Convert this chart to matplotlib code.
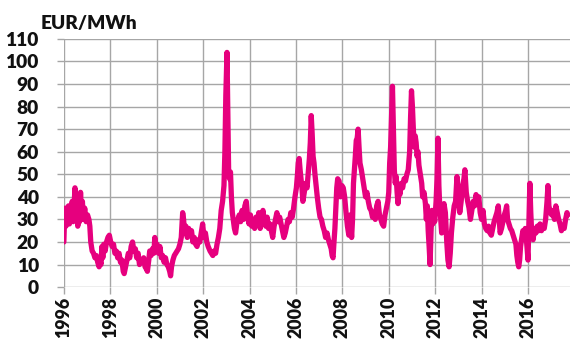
import matplotlib
matplotlib.use("Agg")
import matplotlib.pyplot as plt
import numpy as np

years = [
1996.00,1996.03,1996.06,1996.09,1996.12,1996.16,1996.20,1996.24,1996.28,1996.32,1996.36,1996.40,1996.44,1996.48,1996.52,1996.56,1996.60,1996.64,1996.68,1996.72,1996.76,1996.80,1996.84,1996.90,1996.96,
1997.02,1997.08,1997.12,1997.16,1997.22,1997.28,1997.34,1997.40,1997.46,1997.52,1997.56,1997.60,1997.64,1997.68,1997.72,1997.78,1997.84,1997.90,1997.96,
1998.02,1998.08,1998.14,1998.20,1998.26,1998.32,1998.38,1998.44,1998.50,1998.56,1998.60,1998.66,1998.72,1998.78,1998.84,1998.90,1998.96,
1999.02,1999.08,1999.14,1999.20,1999.26,1999.32,1999.38,1999.44,1999.50,1999.56,1999.60,1999.66,1999.70,1999.76,1999.82,1999.88,1999.92,1999.96,
2000.02,2000.08,2000.14,2000.20,2000.26,2000.32,2000.38,2000.44,2000.50,2000.56,2000.60,2000.64,2000.70,2000.76,2000.82,2000.88,2000.94,
2001.00,2001.06,2001.12,2001.16,2001.20,2001.26,2001.32,2001.38,2001.44,2001.50,2001.56,2001.62,2001.68,2001.74,2001.80,2001.86,2001.92,2001.98,
2002.04,2002.10,2002.16,2002.22,2002.30,2002.36,2002.42,2002.48,2002.54,2002.60,2002.66,2002.72,2002.78,2002.84,2002.90,2002.94,2002.98,
2003.03,2003.07,2003.10,2003.14,2003.18,2003.22,2003.26,2003.30,2003.35,2003.40,2003.45,2003.50,2003.56,2003.62,2003.68,2003.74,2003.80,2003.86,2003.92,2003.98,
2004.04,2004.10,2004.16,2004.22,2004.28,2004.34,2004.40,2004.46,2004.52,2004.58,2004.64,2004.70,2004.76,2004.82,2004.88,2004.94,
2005.00,2005.06,2005.12,2005.18,2005.24,2005.30,2005.36,2005.42,2005.48,2005.54,2005.60,2005.66,2005.72,2005.78,2005.84,2005.90,2005.96,
2006.02,2006.06,2006.10,2006.14,2006.18,2006.22,2006.26,2006.30,2006.36,2006.42,2006.48,2006.54,2006.58,2006.62,2006.66,2006.70,2006.74,2006.78,2006.82,2006.86,2006.92,2006.98,
2007.04,2007.10,2007.16,2007.22,2007.28,2007.34,2007.40,2007.46,2007.52,2007.56,2007.60,2007.64,2007.68,2007.72,2007.76,2007.80,2007.86,2007.92,2007.98,
2008.04,2008.10,2008.16,2008.22,2008.28,2008.34,2008.40,2008.44,2008.48,2008.52,2008.56,2008.60,2008.64,2008.68,2008.72,2008.76,2008.82,2008.88,2008.94,
2009.00,2009.06,2009.12,2009.18,2009.24,2009.30,2009.36,2009.42,2009.48,2009.54,2009.60,2009.66,2009.72,2009.78,2009.84,2009.90,2009.96,
2010.00,2010.04,2010.08,2010.12,2010.16,2010.20,2010.24,2010.28,2010.32,2010.36,2010.40,2010.44,2010.48,2010.54,2010.60,2010.66,2010.72,2010.78,2010.84,2010.90,2010.94,2010.98,
2011.02,2011.06,2011.10,2011.14,2011.18,2011.22,2011.26,2011.30,2011.36,2011.42,2011.46,2011.52,2011.58,2011.62,2011.66,2011.70,2011.74,2011.78,2011.82,2011.86,2011.90,2011.94,2011.98,
2012.04,2012.08,2012.12,2012.16,2012.20,2012.24,2012.28,2012.32,2012.38,2012.44,2012.50,2012.55,2012.60,2012.65,2012.70,2012.76,2012.82,2012.88,2012.94,
2013.00,2013.06,2013.12,2013.18,2013.24,2013.28,2013.34,2013.40,2013.46,2013.52,2013.58,2013.64,2013.70,2013.76,2013.82,2013.88,2013.94,
2014.00,2014.06,2014.12,2014.18,2014.24,2014.30,2014.36,2014.42,2014.48,2014.54,2014.60,2014.66,2014.72,2014.76,2014.80,2014.86,2014.92,2014.98,
2015.04,2015.08,2015.12,2015.18,2015.24,2015.30,2015.36,2015.42,2015.48,2015.52,2015.56,2015.60,2015.64,2015.68,2015.72,2015.78,2015.82,2015.88,2015.94,
2016.00,2016.04,2016.08,2016.12,2016.16,2016.22,2016.28,2016.34,2016.40,2016.46,2016.52,2016.58,2016.64,2016.70,2016.76,2016.82,2016.86,2016.90,2016.96,
2017.02,2017.08,2017.14,2017.20,2017.26,2017.32,2017.38,2017.44,2017.50,2017.56,2017.62,2017.68,2017.72,
]

price = [
20,30,35,27,33,29,36,28,34,30,38,29,36,44,30,36,27,33,29,42,31,38,30,35,29,
32,30,27,20,16,15,13,14,11,9,12,10,18,13,19,16,20,22,23,
20,18,19,15,16,13,15,11,12,7,6,9,12,15,13,18,20,
16,17,13,15,10,12,11,13,9,8,7,12,16,14,17,15,22,17,
19,15,18,13,14,11,13,10,9,7,5,9,12,14,15,16,17,
19,22,33,30,24,27,22,26,23,25,20,22,19,18,21,20,24,28,
22,24,20,18,16,15,14,16,15,19,22,26,34,38,45,60,85,
104,75,52,48,51,40,33,30,26,24,28,30,32,29,34,30,36,38,31,28,
32,27,29,26,31,28,33,26,30,34,29,27,31,26,28,25,
22,27,30,33,29,31,28,25,22,24,27,30,29,33,31,35,40,
44,49,55,57,52,48,44,38,42,46,44,52,57,64,76,68,58,55,50,46,40,35,
31,30,27,25,22,24,21,19,17,14,13,20,26,35,44,48,47,40,45,
44,40,33,27,23,32,22,30,46,52,58,65,66,70,62,55,52,48,44,
40,42,38,35,34,31,33,30,36,38,32,30,28,27,32,35,38,
42,55,62,75,89,70,52,46,49,42,37,44,41,46,44,48,47,50,52,60,75,87,
80,70,62,67,64,58,60,54,50,46,40,42,37,30,36,25,18,10,24,34,28,33,29,
38,48,66,45,35,30,24,32,37,33,20,12,9,15,24,31,36,38,49,
40,33,38,45,48,52,42,38,35,30,34,38,36,41,38,40,33,
30,34,28,26,25,27,24,23,26,29,31,33,36,30,24,26,29,32,
34,36,30,28,26,25,23,21,19,14,11,9,12,18,21,25,22,26,20,
12,30,46,33,24,21,26,24,27,25,28,25,27,26,30,38,45,36,33,
32,34,30,36,33,30,28,25,27,26,30,33,32,
]

ytick_vals = list(range(0, 111, 10))
xtick_vals = list(range(1996, 2017, 2))
y_label = "EUR/MWh"

fig = plt.figure(figsize=(5.70, 3.41), dpi=100)
ax = fig.add_axes([0.112, 0.158, 0.888, 0.728])

grid_c = "#a6a6a6"
ax.plot(years, price, color="#E6007E", lw=3.8, solid_joinstyle="round",
        solid_capstyle="round", zorder=3)

ax.set_xlim(1996, 2017.81)
ax.set_ylim(0, 110)
ax.set_yticks(ytick_vals)
ax.set_xticks(xtick_vals)
ax.set_yticklabels([str(v) for v in ytick_vals])
ax.set_xticklabels([str(v) for v in xtick_vals], rotation=90)
for s in ax.spines.values():
    s.set_visible(False)
ax.grid(True, color=grid_c, lw=1.0, zorder=0)
ax.tick_params(axis="both", color=grid_c, length=5, width=1.0, pad=4)
for lab in ax.get_yticklabels():
    lab.set_fontfamily("Lato")
    lab.set_fontweight("heavy")
    lab.set_fontsize(13.8)
    lab.set_color("#111111")
for lab in ax.get_xticklabels():
    lab.set_fontfamily("Lato")
    lab.set_fontweight("heavy")
    lab.set_fontsize(12.8)
    lab.set_color("#111111")
ax.tick_params(axis="y", pad=13)
ax.tick_params(axis="x", pad=2)

fig.text(0.072, 0.93, y_label, fontsize=13.8, fontweight="heavy", family="Lato",
         color="#111111", va="center", ha="left")

fig.savefig("out.png", dpi=100)
